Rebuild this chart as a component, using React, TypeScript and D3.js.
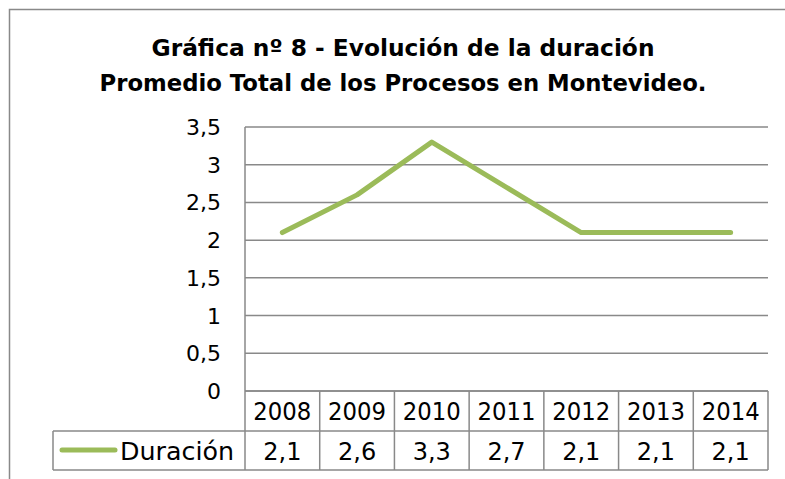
import React, { useEffect, useRef } from 'react';
import * as d3 from 'd3';

const years = ['2008', '2009', '2010', '2011', '2012', '2013', '2014'];
const duracion = [2.1, 2.6, 3.3, 2.7, 2.1, 2.1, 2.1];
const yTicks = [0, 0.5, 1, 1.5, 2, 2.5, 3, 3.5];
const seriesName = 'Duración';
const titleLines = [
    'Gráfica nº 8 - Evolución de la duración',
    'Promedio Total de los Procesos en Montevideo.',
];

const fmt = (v: number) => String(v).replace('.', ',');

const App: React.FC = () => {
    const ref = useRef<SVGSVGElement>(null);

    useEffect(() => {
        if (!ref.current) return;
        const svg = d3.select(ref.current);
        svg.selectAll('*').remove();

        const font = "'DejaVu Sans', sans-serif";
        const grid = '#898989';
        const green = '#9BBB59';

        const left = 245, right = 768, top = 127, bottom = 391;
        const row1 = 431, row2 = 470, legendLeft = 53;

        const x = d3.scaleBand<string>().domain(years).range([left, right]);
        const y = d3.scaleLinear().domain([0, 3.5]).range([bottom, top]);

        // outer chart border (cut off on the right / bottom)
        svg.append('rect')
            .attr('x', 9.5).attr('y', 9.5)
            .attr('width', 820).attr('height', 520)
            .attr('fill', 'white')
            .attr('stroke', grid)
            .attr('stroke-width', 1.5);

        // title
        const titleWidths = [503, 607];
        svg.selectAll('text.title')
            .data(titleLines)
            .enter()
            .append('text')
            .attr('class', 'title')
            .attr('x', 403)
            .attr('y', (d, i) => 56 + i * 35)
            .attr('text-anchor', 'middle')
            .attr('textLength', (d, i) => titleWidths[i])
            .attr('lengthAdjust', 'spacingAndGlyphs')
            .style('font-family', font)
            .style('font-weight', 'bold')
            .style('font-size', '23px')
            .style('fill', '#000')
            .text(d => d);

        // gridlines
        svg.selectAll('line.grid')
            .data(yTicks)
            .enter()
            .append('line')
            .attr('x1', left).attr('x2', right)
            .attr('y1', d => y(d)).attr('y2', d => y(d))
            .attr('stroke', grid)
            .attr('stroke-width', 1.5);

        // y axis line
        svg.append('line')
            .attr('x1', left).attr('x2', left)
            .attr('y1', top).attr('y2', bottom)
            .attr('stroke', grid)
            .attr('stroke-width', 1.5);

        // y tick labels
        svg.selectAll('text.ytick')
            .data(yTicks)
            .enter()
            .append('text')
            .attr('x', 221)
            .attr('y', d => y(d) + 8)
            .attr('text-anchor', 'end')
            .style('font-family', font)
            .style('font-size', '22px')
            .style('fill', '#000')
            .text(d => fmt(d));

        // line series
        const line = d3.line<number>()
            .x((d, i) => (x(years[i]) as number) + x.bandwidth() / 2)
            .y(d => y(d));

        svg.append('path')
            .datum(duracion)
            .attr('d', line)
            .attr('fill', 'none')
            .attr('stroke', green)
            .attr('stroke-width', 5)
            .attr('stroke-linecap', 'round')
            .attr('stroke-linejoin', 'round');

        // data table
        const t = svg.append('g');
        const hl = (x1: number, x2: number, yy: number) =>
            t.append('line').attr('x1', x1).attr('x2', x2).attr('y1', yy).attr('y2', yy)
                .attr('stroke', grid).attr('stroke-width', 1.5);
        hl(left, right, bottom);
        hl(legendLeft, right, row1);
        hl(legendLeft, right, row2);

        const edges = years.map(d => x(d) as number).concat([right]);
        t.selectAll('line.col')
            .data(edges)
            .enter()
            .append('line')
            .attr('x1', d => d).attr('x2', d => d)
            .attr('y1', bottom).attr('y2', row2)
            .attr('stroke', grid)
            .attr('stroke-width', 1.5);
        t.append('line')
            .attr('x1', legendLeft).attr('x2', legendLeft)
            .attr('y1', row1).attr('y2', row2)
            .attr('stroke', grid)
            .attr('stroke-width', 1.5);

        t.selectAll('text.year')
            .data(years)
            .enter()
            .append('text')
            .attr('x', d => (x(d) as number) + x.bandwidth() / 2)
            .attr('y', 420)
            .attr('text-anchor', 'middle')
            .attr('textLength', 58)
            .attr('lengthAdjust', 'spacingAndGlyphs')
            .style('font-family', font)
            .style('font-size', '24px')
            .style('fill', '#000')
            .text(d => d);

        t.selectAll('text.val')
            .data(duracion)
            .enter()
            .append('text')
            .attr('x', (d, i) => (x(years[i]) as number) + x.bandwidth() / 2)
            .attr('y', 460)
            .attr('text-anchor', 'middle')
            .style('font-family', font)
            .style('font-size', '24px')
            .style('fill', '#000')
            .text(d => fmt(d));

        // legend key
        t.append('line')
            .attr('x1', 62).attr('x2', 115)
            .attr('y1', 450).attr('y2', 450)
            .attr('stroke', green)
            .attr('stroke-width', 5)
            .attr('stroke-linecap', 'round');
        t.append('text')
            .attr('x', 120)
            .attr('y', 460)
            .attr('textLength', 114)
            .attr('lengthAdjust', 'spacingAndGlyphs')
            .style('font-family', font)
            .style('font-size', '24px')
            .style('fill', '#000')
            .text(seriesName);
    }, []);

    return (
        <svg
            ref={ref}
            width={785}
            height={479}
            style={{ position: 'absolute', left: 0, top: 0, background: 'white' }}
        />
    );
};

export default App;
